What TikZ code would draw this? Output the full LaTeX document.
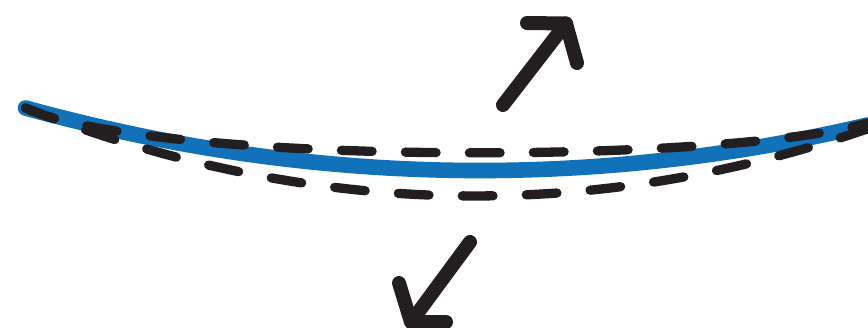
\documentclass[tikz,border=0pt]{standalone}
\definecolor{beamblue}{RGB}{17,114,186}
\definecolor{inkblack}{RGB}{35,31,32}
\begin{document}
\begin{tikzpicture}[x=1pt,y=-1pt,
  beam/.style={draw=beamblue, line width=15.6pt, line cap=round},
  modeline/.style={draw=inkblack, line width=9.3pt, line cap=round, dash pattern=on 30.7pt off 33.3pt},
  arrowline/.style={draw=inkblack, line width=14pt, line cap=round, line join=round}]
\useasboundingbox (0,0) rectangle (868,327);
\clip (0,0) rectangle (868,327);
% curve end points
\coordinate (s) at (25.5,108);
\coordinate (be) at (868,124.9);
\coordinate (ue) at (868,123);
\coordinate (le) at (868,128.7);
% arrows
\coordinate (uptail) at (503,105);
\coordinate (uptip) at (566,23.5);
\coordinate (upa) at (527,23);
\coordinate (upb) at (577,63);
\coordinate (dntail) at (470,242);
\coordinate (dntip) at (411,322);
\coordinate (dna) at (399,283);
\coordinate (dnb) at (446,322);
% beam and displaced shapes
\draw[beam] (s) .. controls (306.3,185.3) and (587.2,190.9) .. (be);
\draw[modeline] (s) .. controls (150,165) and (720,165) .. (ue);
\draw[modeline] (s) .. controls (306.3,217.9) and (587.2,224.8) .. (le);
% arrows
\draw[arrowline] (uptail) -- (uptip);
\draw[arrowline] (upa) -- (uptip) -- (upb);
\draw[arrowline] (dntail) -- (dntip);
\draw[arrowline] (dna) -- (dntip) -- (dnb);
\end{tikzpicture}
\end{document}
